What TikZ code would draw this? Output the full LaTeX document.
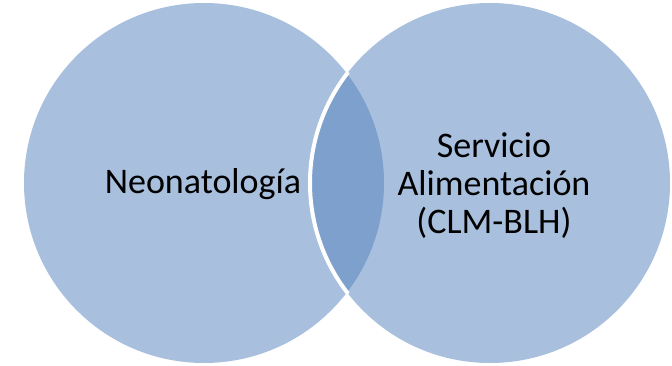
\documentclass[tikz,border=0pt]{standalone}
\usepackage{fontspec}
\setmainfont{Carlito}
\definecolor{lightfill}{HTML}{A8C0DE}
\definecolor{darkfill}{HTML}{7DA0CC}
\begin{document}
\begin{tikzpicture}[x=1pt,y=-1pt,
  venn/.style={circle, inner sep=0pt, minimum size=360pt, fill=lightfill},
  lbl/.style={font=\fontsize{36}{38}\selectfont, text=black, align=center}]
\useasboundingbox (0,0) rectangle (672,366);
\node[venn] (L) at (204,183) {};
\node[venn] (R) at (490,183) {};
\begin{scope}
  \clip (204,183) circle (180pt);
  \fill[darkfill] (490,183) circle (180pt);
\end{scope}
\begin{scope}
  \clip (204,183) circle (182pt);
  \draw[white, line width=4pt] (490,183) circle (180pt);
\end{scope}
\node[lbl] (tL) at (203,184) {Neonatología};
\node[lbl] (tR) at (494,186) {Servicio\\Alimentación\\(CLM-BLH)};
\end{tikzpicture}
\end{document}
